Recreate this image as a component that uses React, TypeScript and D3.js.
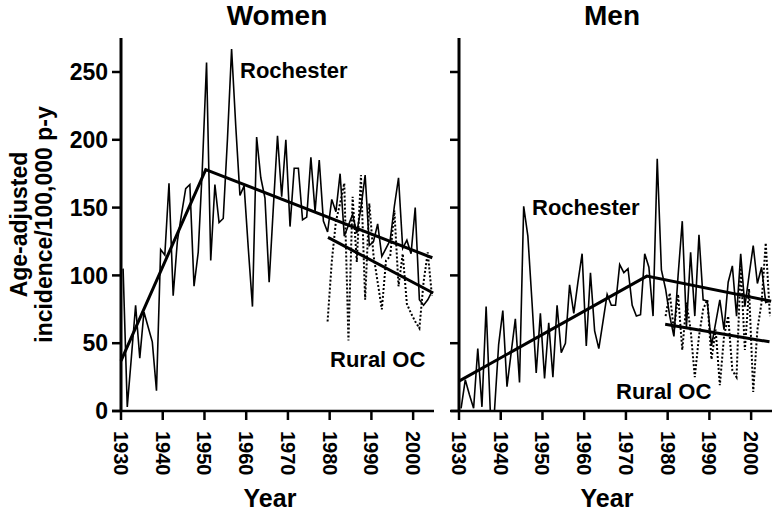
import React from "react";
import * as d3 from "d3";

const START_YEAR = 1930;
const RURAL_START = 1979;

const womenRochester = [105,3,40,78,39,73,62,51,15,119,115,168,85,125,145,164,167,92,117,180,257,111,167,139,142,200,267,210,159,166,120,77,202,172,157,95,150,203,158,200,136,179,179,141,143,187,147,185,140,132,156,147,175,129,137,145,131,150,174,122,125,138,114,120,126,151,172,120,126,116,150,82,78,82,88];
const womenRural = [66,110,140,153,168,52,158,110,174,82,153,115,95,75,111,114,148,92,116,79,72,66,61,95,117,85];
const menRochester = [2,23,12,2,46,3,77,0,0,49,74,18,43,68,21,151,129,80,28,72,24,65,25,78,43,50,93,72,95,116,48,102,59,46,66,86,78,78,108,102,105,78,70,71,116,106,70,186,104,90,70,55,100,140,62,117,70,130,82,81,48,65,82,60,95,107,70,116,77,100,122,94,106,80,81];
const menRural = [70,87,59,86,45,80,60,25,55,75,82,38,60,19,55,70,30,25,107,45,90,14,60,80,124,70];

const womenRochTrend = [[1930, 37], [1950.3, 178], [2004.6, 113]];
const womenRuralTrend = [[1979.6, 128], [2004.8, 87]];
const menRochTrend = [[1930, 22], [1975, 99.5], [2004.8, 81]];
const menRuralTrend = [[1979.4, 64], [2004.4, 51]];

const yTicks = [0, 50, 100, 150, 200, 250];
const xTicks = [1930, 1940, 1950, 1960, 1970, 1980, 1990, 2000];

const FONT = "'Liberation Sans', Arial, Helvetica, sans-serif";

type Panel = {
  title: string;
  x0: number;
  x1: number;
  axisStart: number;
  roch: number[];
  rural: number[];
  rochTrend: number[][];
  ruralTrend: number[][];
  rochLabel: [number, number];
  ruralLabel: [number, number];
  showYLabels: boolean;
  titleX: number;
  yearX: number;
};

const panels: Panel[] = [
  {
    title: "Women", x0: 121, x1: 434, axisStart: 112,
    roch: womenRochester, rural: womenRural,
    rochTrend: womenRochTrend, ruralTrend: womenRuralTrend,
    rochLabel: [240, 78], ruralLabel: [330, 367], showYLabels: true,
    titleX: 277, yearX: 270,
  },
  {
    title: "Men", x0: 459, x1: 772, axisStart: 451,
    roch: menRochester, rural: menRural,
    rochTrend: menRochTrend, ruralTrend: menRuralTrend,
    rochLabel: [532, 215], ruralLabel: [616, 399], showYLabels: false,
    titleX: 612, yearX: 607,
  },
];

const Y0 = 411;
const yScale = d3.scaleLinear().domain([0, 250]).range([Y0, 72]);
const yTop = 38;

function PanelView({ p }: { p: Panel }) {
  const x = d3.scaleLinear().domain([1930, 2005]).range([p.x0, p.x1]);
  const line = d3.line<[number, number]>().x(d => x(d[0])).y(d => yScale(d[1]));
  const rochPts: [number, number][] = p.roch.map((v, i) => [START_YEAR + i + 0.5, v]);
  const ruralPts: [number, number][] = p.rural.map((v, i) => [RURAL_START + i + 0.5, v]);
  return (
    <g>
      <text x={p.titleX} y={25} textAnchor="middle" fontFamily={FONT} fontWeight="bold" fontSize={28}>{p.title}</text>
      {/* y axis */}
      <line x1={p.x0} x2={p.x0} y1={yTop} y2={Y0 + 1} stroke="#000" strokeWidth={3} />
      {yTicks.map(t => (
        <g key={t}>
          <line x1={p.x0 - 9} x2={p.x0} y1={yScale(t)} y2={yScale(t)} stroke="#000" strokeWidth={2.5} />
          {p.showYLabels && (
            <text x={108} y={yScale(t)} dy="0.36em" textAnchor="end" fontFamily={FONT} fontWeight="bold" fontSize={23}>{t}</text>
          )}
        </g>
      ))}
      {/* x axis */}
      <line x1={p.axisStart} x2={p.x1} y1={Y0} y2={Y0} stroke="#000" strokeWidth={2.5} />
      {xTicks.map(t => (
        <g key={t}>
          <line x1={x(t)} x2={x(t)} y1={Y0} y2={Y0 + 9} stroke="#000" strokeWidth={2.5} />
          <text transform={`translate(${x(t)},${431}) rotate(90)`} dy="0.35em" textAnchor="start" fontFamily={FONT} fontWeight="bold" fontSize={20}>{t}</text>
        </g>
      ))}
      <text x={p.yearX} y={507} textAnchor="middle" fontFamily={FONT} fontWeight="bold" fontSize={25}>Year</text>
      {/* data */}
      <path d={line(ruralPts) || ""} fill="none" stroke="#000" strokeWidth={2} strokeDasharray="2,2" />
      <path d={line(rochPts) || ""} fill="none" stroke="#000" strokeWidth={1.6} strokeLinejoin="miter" />
      <path d={line(p.rochTrend as [number, number][]) || ""} fill="none" stroke="#000" strokeWidth={3} />
      <path d={line(p.ruralTrend as [number, number][]) || ""} fill="none" stroke="#000" strokeWidth={3} />
      <text x={p.rochLabel[0]} y={p.rochLabel[1]} fontFamily={FONT} fontWeight="bold" fontSize={22}>Rochester</text>
      <text x={p.ruralLabel[0]} y={p.ruralLabel[1]} fontFamily={FONT} fontWeight="bold" fontSize={22}>Rural OC</text>
    </g>
  );
}

export default function App() {
  return (
    <svg width={774} height={515} viewBox="0 0 774 515" style={{ position: "absolute", left: 0, top: 0, background: "#fff" }}>
      <rect width={774} height={515} fill="#fff" />
      <g transform={`translate(27,${(yTop + Y0) / 2}) rotate(-90)`}>
        <text textAnchor="middle" fontFamily={FONT} fontWeight="bold" fontSize={23}>Age-adjusted</text>
      </g>
      <g transform={`translate(52,${(yTop + Y0) / 2}) rotate(-90)`}>
        <text textAnchor="middle" fontFamily={FONT} fontWeight="bold" fontSize={23}>incidence/100,000 p-y</text>
      </g>
      {panels.map(p => <PanelView key={p.title} p={p} />)}
    </svg>
  );
}
